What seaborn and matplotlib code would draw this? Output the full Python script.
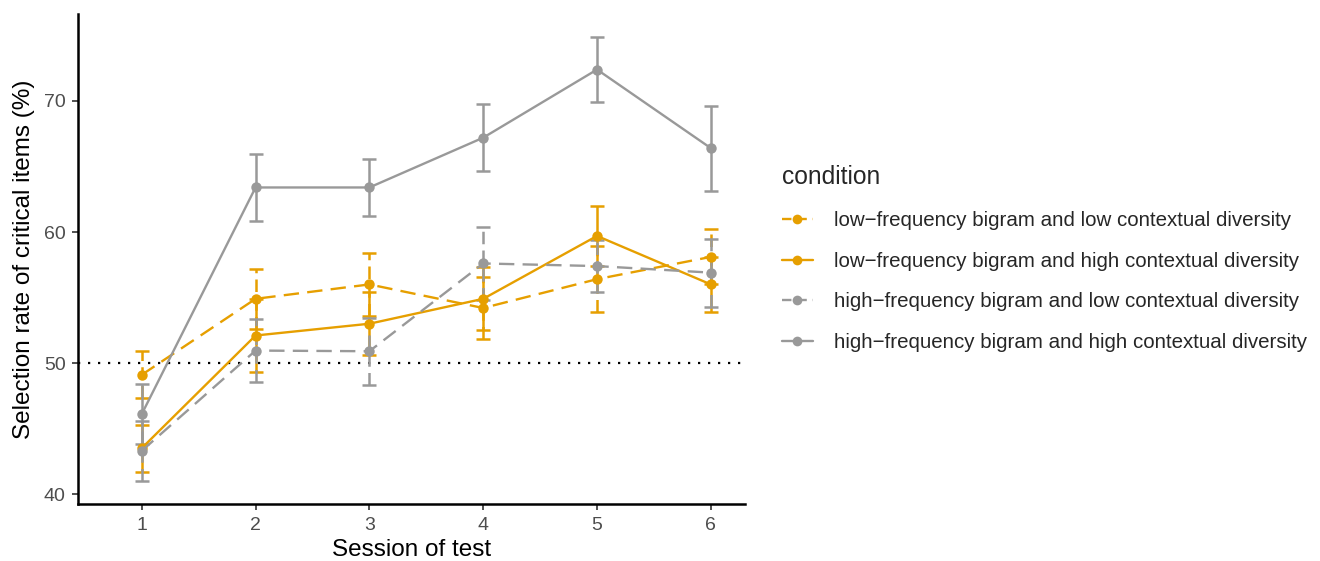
import numpy as np
import pandas as pd
import matplotlib
matplotlib.use("Agg")
import matplotlib.pyplot as plt
from matplotlib.lines import Line2D
import seaborn as sns

sessions = [1, 2, 3, 4, 5, 6]
conditions = [
    "low\u2212frequency bigram and low contextual diversity",
    "low\u2212frequency bigram and high contextual diversity",
    "high\u2212frequency bigram and low contextual diversity",
    "high\u2212frequency bigram and high contextual diversity",
]
low_low_mean = [49.1, 54.9, 56.0, 54.2, 56.4, 58.1]
low_low_se = [1.8, 2.3, 2.4, 2.4, 2.5, 2.1]
low_high_mean = [43.5, 52.1, 53.0, 54.9, 59.7, 56.0]
low_high_se = [1.8, 2.8, 2.4, 2.4, 2.3, 2.1]
high_low_mean = [43.3, 50.95, 50.9, 57.6, 57.4, 56.9]
high_low_se = [2.3, 2.4, 2.55, 2.8, 2.0, 2.6]
high_high_mean = [46.1, 63.4, 63.4, 67.2, 72.4, 66.4]
high_high_se = [2.3, 2.55, 2.2, 2.55, 2.5, 3.25]

means = [low_low_mean, low_high_mean, high_low_mean, high_high_mean]
ses = [low_low_se, low_high_se, high_low_se, high_high_se]
colors = ["#E69F00", "#E69F00", "#999999", "#999999"]
dashed = [True, False, True, False]
dash_pat = (6.5, 3.5)

rows = []
for c, m, s in zip(conditions, means, ses):
    for x, v, e in zip(sessions, m, s):
        rows.append({"session": x, "rate": v, "se": e, "condition": c})
df = pd.DataFrame(rows)

sns.set_theme(style="white")
plt.rcParams["font.family"] = ["Liberation Sans", "DejaVu Sans"]

fig = plt.figure(figsize=(13.2, 5.61), dpi=100)
ax = fig.add_axes([78 / 1320, 1 - 504 / 561, (745 - 78) / 1320, (504 - 14) / 561])

ax.axhline(50, color="black", linestyle=(0, (1, 3.5)), linewidth=1.6, zorder=1)

palette = dict(zip(conditions, colors))
dashes = {c: (dash_pat if d else "") for c, d in zip(conditions, dashed)}
markers = {c: "o" for c in conditions}

for c, col, d in zip(conditions, colors, dashed):
    sub = df[df["condition"] == c]
    eb = ax.errorbar(sub["session"], sub["rate"], yerr=sub["se"], fmt="none",
                     ecolor=col, elinewidth=1.8, capsize=5, capthick=1.8, zorder=2)
    if d:
        eb[2][0].set_linestyle((0, (5, 2.5)))

sns.lineplot(data=df, x="session", y="rate", hue="condition", style="condition",
             palette=palette, dashes=dashes, markers=markers, markersize=7.5,
             markeredgewidth=0, linewidth=1.7, errorbar=None, legend=False,
             ax=ax, zorder=3)

ax.set_xlim(0.44, 6.3)
ax.set_ylim(39.24, 76.64)
ax.set_xticks(sessions)
ax.set_yticks([40, 50, 60, 70])
ax.tick_params(axis="both", which="both", length=4, width=1.2, color="#333333",
               labelcolor="#4D4D4D", labelsize=14, pad=5, bottom=True, left=True)
for side in ["top", "right"]:
    ax.spines[side].set_visible(False)
for side in ["left", "bottom"]:
    ax.spines[side].set_color("black")
    ax.spines[side].set_linewidth(1.8)
ax.grid(False)
ax.set_xlabel("Session of test", fontsize=17.5, color="black", labelpad=4)
ax.set_ylabel("Selection rate of critical items (%)", fontsize=17.5, color="black", labelpad=6)

handles = []
for c, col, d in zip(conditions, colors, dashed):
    handles.append(Line2D([], [], color=col, linestyle=(0, (4, 2.5)) if d else "-",
                          marker="o", markersize=7, markeredgewidth=0, linewidth=1.7))
leg = fig.legend(handles, conditions, title="condition", loc="upper left",
                 bbox_to_anchor=(782 / 1320, 1 - 165 / 561), frameon=False,
                 fontsize=14.8, title_fontsize=17.7, labelspacing=1.05,
                 handlelength=1.5, handletextpad=1.05, alignment="left",
                 borderaxespad=0, borderpad=0)
leg._legend_box.sep = 16

fig.savefig("out.png", dpi=100)
